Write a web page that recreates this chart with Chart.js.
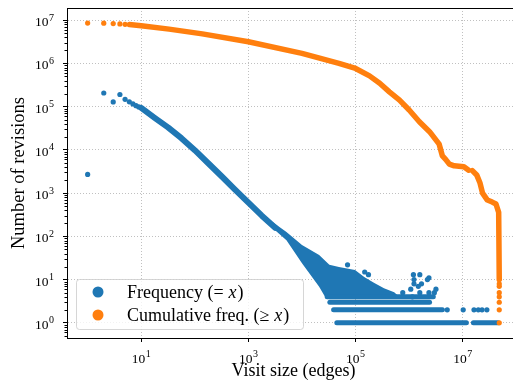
<!DOCTYPE html>
<html lang="en">
<head>
<meta charset="UTF-8">
<title>Visit size distribution</title>
<style>
  html, body { margin: 0; padding: 0; background: #fff; overflow: hidden; }
  #wrap { width: 513px; height: 392px; overflow: hidden; }
  canvas { display: block; }
</style>
</head>
<body>
<div id="wrap"><canvas id="chart" width="530" height="392"></canvas></div>
<script src="https://cdn.jsdelivr.net/npm/chart.js@4"></script>
<script>
  const BLUE = '#1f77b4', ORANGE = '#ff7f0e';
  const SERIF = '"Liberation Serif", "Times New Roman", serif';

  // frequency (= x): single dots at small sizes, dense curve, ragged band, count rows, stray dots
  const freqHeadX = [1, 2, 3, 4, 5, 6, 7, 8, 9];
  const freqHeadY = [2700, 206000, 128000, 190000, 147000, 129000, 115000, 105000, 98000];
  const freqCurveX = [10, 17.8, 31.6, 56.2, 100, 178, 316, 562, 1000, 1780, 3160];
  const freqCurveY = [93000, 55000, 33000, 18600, 9800, 4900, 2450, 1200, 600, 300, 158];
  const bandTopX = [2820, 5130, 10000, 20900, 32400, 49000, 97700, 145000, 224000, 339000, 525000, 631000];
  const bandTopY = [214, 126, 63, 37, 22, 19.5, 16.6, 11.5, 8.3, 6.3, 5.1, 4.2];
  const bandLowX = [2820, 5130, 10000, 20900, 26900, 631000];
  const bandLowY = [155, 81, 24, 6.8, 4, 4];
  const rowY = [1, 1, 2, 3, 4];
  const rowStart = [44700, 15800000, 38900, 33100, 29500];
  const rowEnd = [11700000, 45700000, 4170000, 2400000, 2820000];
  const freqDotsX = [5130000, 10200000, 16200000, 19500000, 22900000, 28200000, 70800, 148000, 174000, 759000,
    1200000, 1580000, 2340000, 2190000, 1230000, 1700000, 1230000, 1480000, 1070000, 1580000, 2950000, 2340000, 1150000, 3160000];
  const freqDotsY = [2, 2, 2, 2, 2, 2, 22, 15, 13, 5, 13, 13, 11, 10, 10, 8, 8, 7, 6, 5, 5, 5, 4, 6];

  // cumulative freq. (>= x)
  const cumHeadX = [1, 2, 3, 4, 5];
  const cumHeadY = [8500000, 8450000, 8300000, 8150000, 7950000];
  const cumCurveX = [6, 10, 33.1, 138, 1000, 10000, 49000, 100000, 182000, 282000, 427000, 661000, 1000000, 1550000,
    2400000, 3630000, 4170000, 4790000, 5620000, 6920000, 10500000, 12900000, 14000000, 15100000, 18200000,
    20900000, 23400000, 28800000, 35500000, 41700000, 46800000, 48000000];
  const cumCurveY = [7850000, 7410000, 6170000, 4790000, 3160000, 1700000, 1000000, 759000, 513000, 347000, 219000,
    141000, 83200, 44700, 26300, 13500, 7240, 6030, 4680, 4270, 4070, 3390, null, 3310, 2630,
    1740, 1000, 690, 620, 560, 360, 10];
  const cumTailX = [48000000, 48000000, 48000000, 48000000, 48000000, 48000000, 48000000];
  const cumTailY = [8, 7, 5, 4, 3, 2, 1];

  // axes
  const xMajorTicks = [10, 1000, 100000, 10000000];
  const yMajorTicks = [1, 10, 100, 1000, 10000, 100000, 1000000, 10000000];
  const yMinorTicks = [];
  yMajorTicks.concat([0.1]).forEach(d => { for (let k = 2; k <= 9; k++) yMinorTicks.push(d * k); });

  const legendItems = [
    { color: BLUE, pre: 'Frequency (=', post: ')' },
    { color: ORANGE, pre: 'Cumulative freq. (\u2265', post: ')' }
  ];

  const pts = (xs, ys) => xs.map((x, i) => ({ x: x, y: ys[i] }));
  const dots = (data, color) => ({ data, showLine: false, pointRadius: 2.6, pointBorderWidth: 0,
    pointBackgroundColor: color, borderColor: color });
  const curve = (data, color, w) => ({ data, pointRadius: 0, borderColor: color, borderWidth: w,
    borderCapStyle: 'round', borderJoinStyle: 'round', tension: 0, spanGaps: false });

  const datasets = [
    dots(pts(cumTailX, cumTailY), ORANGE),
    curve(pts(cumCurveX, cumCurveY), ORANGE, 5.5),
    dots(pts(cumHeadX, cumHeadY), ORANGE),
    dots(pts(freqDotsX, freqDotsY), BLUE),
    dots(pts(freqHeadX, freqHeadY), BLUE),
    curve(pts(freqCurveX, freqCurveY), BLUE, 6)
  ];
  rowY.forEach((v, i) => datasets.push(curve([{ x: rowStart[i], y: v }, { x: rowEnd[i], y: v }], BLUE, 5)));

  function drawPow(ctx, exp, x, y, align) {
    ctx.font = '13.5px ' + SERIF;
    const wb = ctx.measureText('10').width;
    ctx.font = '10px ' + SERIF;
    const we = ctx.measureText(exp).width + 0.5;
    let x0 = align === 'right' ? x - wb - we : x - (wb + we) / 2;
    ctx.textAlign = 'left';
    ctx.textBaseline = 'alphabetic';
    ctx.font = '13.5px ' + SERIF;
    ctx.fillText('10', x0, y);
    ctx.font = '10px ' + SERIF;
    ctx.fillText(exp, x0 + wb + 0.5, y - 5.5);
  }

  // the dense scatter between 10^3.5 and 10^5.8 is drawn as one filled region through the scales
  const band = {
    id: 'band',
    beforeDatasetsDraw(chart) {
      const ctx = chart.ctx, xs = chart.scales.x, ys = chart.scales.y;
      ctx.save();
      ctx.beginPath();
      bandTopX.forEach((x, i) => {
        const px = xs.getPixelForValue(x), py = ys.getPixelForValue(bandTopY[i]);
        if (i === 0) ctx.moveTo(px, py); else ctx.lineTo(px, py);
      });
      for (let i = bandLowX.length - 1; i >= 0; i--) {
        ctx.lineTo(xs.getPixelForValue(bandLowX[i]), ys.getPixelForValue(bandLowY[i]));
      }
      ctx.closePath();
      ctx.fillStyle = BLUE;
      ctx.fill();
      ctx.restore();
    }
  };

  const decor = {
    id: 'decor',
    afterDraw(chart) {
      const ctx = chart.ctx, a = chart.chartArea;
      const xs = chart.scales.x, ys = chart.scales.y;
      ctx.save();
      ctx.strokeStyle = '#000';
      ctx.lineWidth = 1;
      ctx.beginPath();
      ctx.moveTo(a.left, a.top + 0.5);
      ctx.lineTo(a.right, a.top + 0.5);
      ctx.stroke();
      yMinorTicks.forEach(v => {
        const y = Math.round(ys.getPixelForValue(v)) + 0.5;
        if (y < a.top || y > a.bottom) return;
        ctx.beginPath();
        ctx.moveTo(a.left - 2.5, y);
        ctx.lineTo(a.left, y);
        ctx.stroke();
      });
      ctx.fillStyle = '#000';
      yMajorTicks.forEach(v => drawPow(ctx, String(Math.round(Math.log10(v))), 54, ys.getPixelForValue(v) + 6, 'right'));
      xMajorTicks.forEach(v => drawPow(ctx, String(Math.round(Math.log10(v))), xs.getPixelForValue(v), 362.5, 'center'));

      // legend box, lower left inside the plot
      const bx = 76.5, by = 279.5, bw = 227, bh = 50, r = 3;
      ctx.beginPath();
      ctx.moveTo(bx + r, by);
      ctx.lineTo(bx + bw - r, by); ctx.arcTo(bx + bw, by, bx + bw, by + r, r);
      ctx.lineTo(bx + bw, by + bh - r); ctx.arcTo(bx + bw, by + bh, bx + bw - r, by + bh, r);
      ctx.lineTo(bx + r, by + bh); ctx.arcTo(bx, by + bh, bx, by + bh - r, r);
      ctx.lineTo(bx, by + r); ctx.arcTo(bx, by, bx + r, by, r);
      ctx.closePath();
      ctx.fillStyle = 'rgba(255,255,255,0.8)';
      ctx.fill();
      ctx.strokeStyle = 'rgba(204,204,204,0.8)';
      ctx.stroke();
      legendItems.forEach((it, i) => {
        const cy = 292 + i * 23;
        ctx.beginPath();
        ctx.arc(98, cy, 5.5, 0, Math.PI * 2);
        ctx.fillStyle = it.color;
        ctx.fill();
        ctx.fillStyle = '#000';
        ctx.textAlign = 'left';
        ctx.textBaseline = 'alphabetic';
        let tx = 127;
        ctx.font = '18px ' + SERIF;
        ctx.fillText(it.pre, tx, cy + 6);
        tx += ctx.measureText(it.pre).width + 5;
        ctx.font = 'italic 18px ' + SERIF;
        ctx.fillText('x', tx, cy + 6);
        tx += ctx.measureText('x').width + 1;
        ctx.font = '18px ' + SERIF;
        ctx.fillText(it.post, tx, cy + 6);
      });
      ctx.restore();
    }
  };

  new Chart(document.getElementById('chart'), {
    type: 'line',
    data: { datasets },
    options: {
      responsive: false,
      animation: false,
      events: [],
      layout: { padding: { top: 8, right: 10, bottom: 0, left: 0 } },
      plugins: { legend: { display: false }, tooltip: { enabled: false } },
      scales: {
        x: {
          type: 'logarithmic', min: 0.412, max: 117000000, bounds: 'data',
          afterBuildTicks: s => { s.ticks = xMajorTicks.map(v => ({ value: v })); },
          afterFit: s => { s.height = 54; },
          ticks: { display: false },
          grid: { color: '#b0b0b0', lineWidth: 0.8, tickColor: '#000', tickLength: 4, tickWidth: 1 },
          border: { color: '#000', width: 1, dash: [1, 2] },
          title: { display: true, text: 'Visit size (edges)', color: '#000',
            font: { family: SERIF, size: 18 }, padding: { top: 0, bottom: 10 } }
        },
        y: {
          type: 'logarithmic', min: 0.447, max: 19000000, bounds: 'data',
          afterBuildTicks: s => { s.ticks = yMajorTicks.map(v => ({ value: v })); },
          afterFit: s => { s.width = 67; },
          ticks: { display: false },
          grid: { color: '#b0b0b0', lineWidth: 0.8, tickColor: '#000', tickLength: 4, tickWidth: 1 },
          border: { color: '#000', width: 1, dash: [1, 2] },
          title: { display: true, text: 'Number of revisions', color: '#000',
            font: { family: SERIF, size: 18.5 }, padding: { top: 8, bottom: 0 } }
        }
      }
    },
    plugins: [band, decor]
  });
</script>
</body>
</html>
